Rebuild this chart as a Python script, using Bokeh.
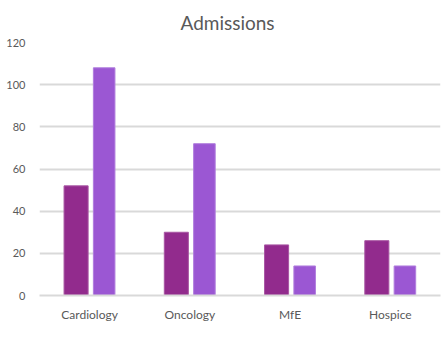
from bokeh.plotting import figure
from bokeh.models import FactorRange, ColumnDataSource, Legend, LegendItem, SingleIntervalTicker
from bokeh.transform import dodge
from bokeh.embed import file_html
from bokeh.resources import INLINE

categories = ["Cardiology", "Oncology", "MfE", "Hospice"]
series_2011 = [52, 30, 24, 26]
series_2016 = [108, 72, 14, 14]
series_names = ["2011", "2016*"]

FONT = "Lato"
GRAY = "#595959"
GRID = "#D9D9D9"

src = ColumnDataSource(dict(cat=categories, a=series_2011, b=series_2016))

p = figure(x_range=FactorRange(*categories), y_range=(0, 120),
           frame_width=401, frame_height=253, output_backend="svg", toolbar_location=None,
           min_border_left=39, min_border_right=1, min_border_top=0, min_border_bottom=0)

r1 = p.vbar(x=dodge("cat", -0.135, range=p.x_range), top="a", width=0.24, source=src,
            fill_color="#922B8D", line_color="#A856A3", line_width=1)
r2 = p.vbar(x=dodge("cat", 0.145, range=p.x_range), top="b", width=0.215, source=src,
            fill_color="#9B57D3", line_color="#B07EDD", line_width=1)

p.title.text = "Admissions"
p.title.text_font = FONT
p.title.text_font_size = "19px"
p.title.text_font_style = "normal"
p.title.text_color = GRAY
p.title.align = "left"
p.title.offset = 141
p.title.standoff = 17

p.outline_line_color = None
p.xgrid.grid_line_color = None
p.ygrid.grid_line_color = GRID
p.ygrid.grid_line_width = 2

p.yaxis.ticker = SingleIntervalTicker(interval=20)
p.yaxis.axis_line_color = None
p.yaxis.major_tick_line_color = None
p.yaxis.minor_tick_line_color = None
p.yaxis.major_tick_out = 0
p.yaxis.major_label_text_font = FONT
p.yaxis.major_label_text_font_size = "11px"
p.yaxis.major_label_text_color = GRAY
p.yaxis.major_label_standoff = 10

p.xaxis.axis_line_color = GRID
p.xaxis.axis_line_width = 2
p.xaxis.major_tick_line_color = None
p.xaxis.minor_tick_line_color = None
p.xaxis.major_tick_out = 0
p.xaxis.major_tick_in = 0
p.xaxis.minor_tick_out = 0
p.xaxis.axis_label_standoff = 0
p.xaxis.major_label_text_font = FONT
p.xaxis.major_label_text_font_size = "12px"
p.xaxis.major_label_text_color = GRAY
p.xaxis.major_label_standoff = 11

legend = Legend(items=[LegendItem(label=series_names[0], renderers=[r1]),
                       LegendItem(label=series_names[1], renderers=[r2])],
                orientation="horizontal", location=(150, 0),
                border_line_color=None, background_fill_alpha=0,
                label_text_font=FONT, label_text_font_size="10px", label_text_color=GRAY,
                glyph_width=8, glyph_height=8, spacing=8, padding=0, margin=0,
                label_standoff=3, label_height=10)
p.add_layout(legend, "below")

open("out.html", "w").write(file_html(p, INLINE))
